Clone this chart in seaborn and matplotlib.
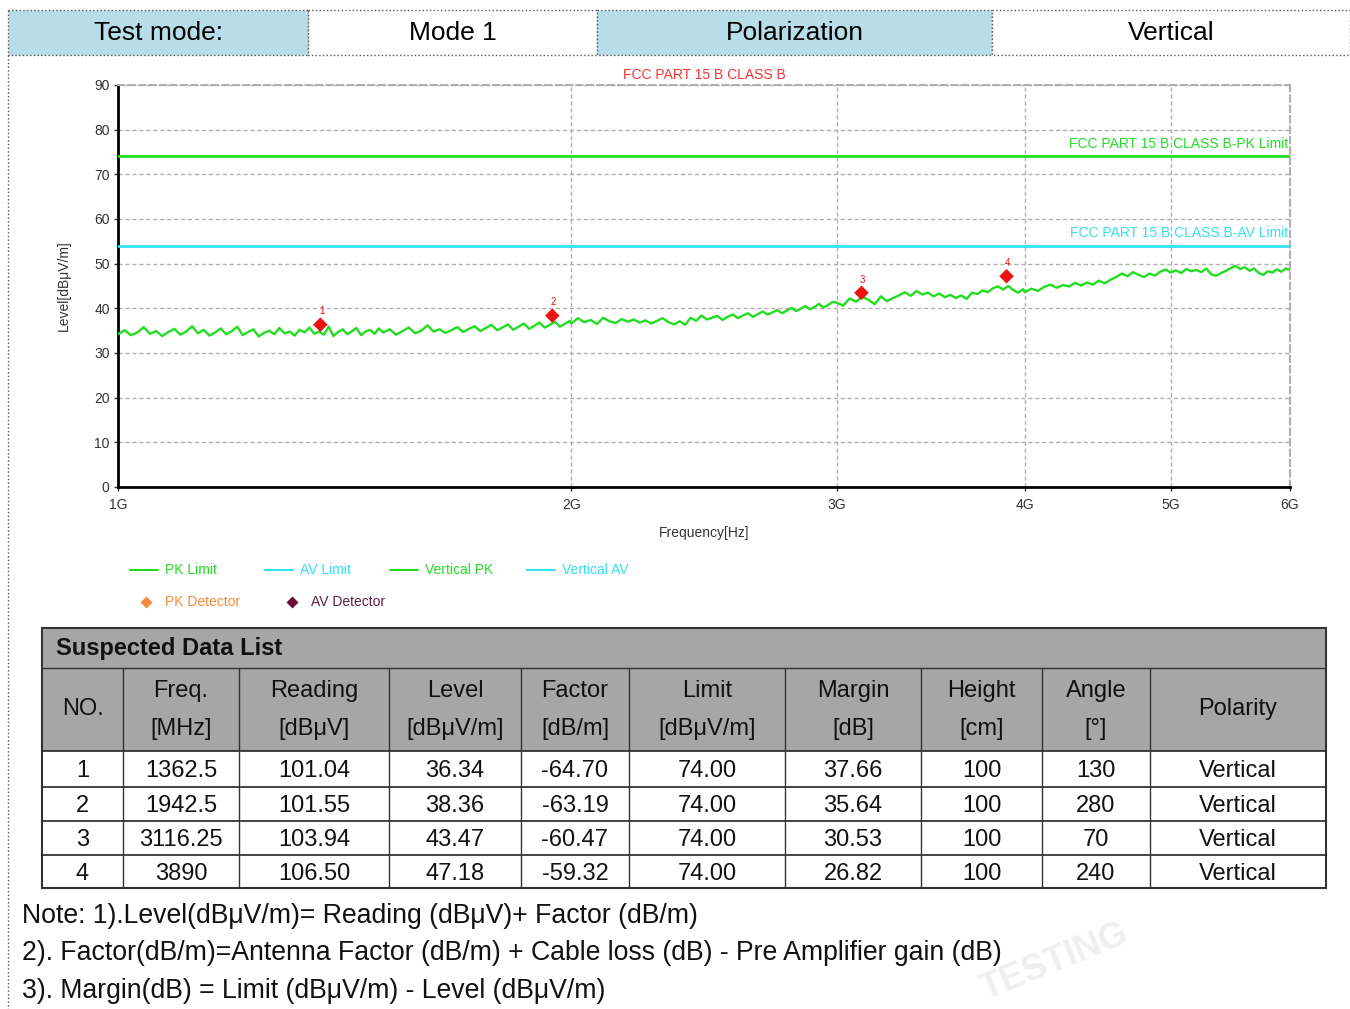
import matplotlib
matplotlib.use("Agg")
import matplotlib.pyplot as plt
import seaborn as sns
import numpy as np
from matplotlib.patches import Rectangle
from matplotlib.ticker import NullLocator

# ---------------- data ----------------
# sweep frequencies (MHz) and measured level (dBuV/m), read off the trace
trace_freq = [
    1000, 1010, 1020, 1030, 1040, 1050, 1060, 1070, 1080, 1090,
    1100, 1110, 1120, 1130, 1140, 1150, 1160, 1170, 1180, 1190,
    1200, 1210, 1220, 1230, 1240, 1250, 1260, 1270, 1280, 1290,
    1300, 1310, 1320, 1330, 1340, 1350, 1360, 1370, 1380, 1390,
    1400, 1410, 1420, 1430, 1440, 1450, 1460, 1470, 1480, 1490,
    1500, 1515, 1530, 1545, 1560, 1575, 1590, 1605, 1620, 1635,
    1650, 1665, 1680, 1695, 1710, 1725, 1740, 1755, 1770, 1785,
    1800, 1815, 1830, 1845, 1860, 1875, 1890, 1905, 1920, 1935,
    1950, 1965, 1980, 1995,
    2000, 2020, 2040, 2060, 2080, 2100, 2120, 2140, 2160, 2180,
    2200, 2220, 2240, 2260, 2280, 2300, 2320, 2340, 2360, 2380,
    2400, 2420, 2440, 2460, 2480, 2500, 2520, 2540, 2560, 2580,
    2600, 2620, 2640, 2660, 2680, 2700, 2720, 2740, 2760, 2780,
    2800, 2820, 2840, 2860, 2880, 2900, 2920, 2940, 2960, 2980,
    3000, 3030, 3060, 3090, 3120, 3150, 3180, 3210, 3240, 3270,
    3300, 3330, 3360, 3390, 3420, 3450, 3480, 3510, 3540, 3570,
    3600, 3630, 3660, 3690, 3720, 3750, 3780, 3810, 3840, 3870,
    3900, 3930, 3960, 3990,
    4000, 4040, 4080, 4120, 4160, 4200, 4240, 4280, 4320, 4360,
    4400, 4440, 4480, 4520, 4560, 4600, 4640, 4680, 4720, 4760,
    4800, 4840, 4880, 4920, 4960, 5000, 5040, 5080, 5120, 5160,
    5200, 5240, 5280, 5320, 5360, 5400, 5440, 5480, 5520, 5560,
    5600, 5640, 5680, 5720, 5760, 5800, 5840, 5880, 5920, 5960,
    6000,
]
trace_level = [
    34.2, 35.1, 34.0, 34.6, 35.8, 34.3, 34.9, 33.8, 34.7, 35.4,
    34.1, 34.8, 36.0, 34.4, 35.2, 33.9, 34.6, 35.5, 34.2, 34.9,
    35.9, 34.0, 34.7, 35.3, 33.7, 34.5, 35.0, 34.2, 35.6, 34.4,
    34.8, 33.9, 35.2, 34.6, 35.7, 34.3, 34.8, 34.1, 35.9, 33.8,
    34.7, 35.3, 34.2, 34.9, 35.6, 34.0, 34.8, 35.2, 34.3, 35.5,
    34.6, 35.3, 34.1, 34.9, 35.7, 34.4, 35.0, 36.2, 34.8, 35.3,
    34.5, 35.1, 35.8, 34.7, 35.4, 36.0, 34.9, 35.6, 36.3, 35.1,
    35.7, 36.4, 35.2, 35.9, 36.6, 35.4, 36.1, 36.8, 35.7, 36.3,
    37.0, 35.9, 36.5, 37.2,
    36.6, 37.8, 36.9, 37.4, 36.5, 37.9, 37.1, 36.7, 37.6, 37.0,
    37.5, 36.8, 37.3, 36.6, 37.2, 37.8, 36.9, 36.4, 37.1, 36.3,
    37.9, 37.2, 38.4, 37.5, 37.9, 38.3, 37.4, 38.1, 38.6, 37.8,
    38.4, 38.9, 38.1, 38.7, 39.3, 38.6, 39.1, 39.6, 38.9, 39.5,
    40.1, 39.4, 39.9, 40.5, 39.8, 40.3, 41.0, 40.2, 40.7, 41.4,
    41.3, 40.6, 42.2, 41.5, 42.6, 41.9, 40.9, 42.7, 41.6, 42.3,
    42.9, 43.6, 42.8, 43.9, 43.1, 43.5, 42.7, 43.3, 42.5, 43.0,
    42.3, 42.9, 42.1, 43.5, 43.2, 44.0, 43.6, 44.5, 44.9, 44.2,
    45.0, 44.1, 43.5, 44.3,
    43.6, 44.4, 43.9, 44.8, 45.3, 44.6, 45.2, 44.9, 45.7, 45.1,
    45.8, 45.3, 46.2, 45.6, 46.4, 47.0, 47.8, 47.2, 48.1, 47.5,
    47.0, 47.8, 47.3, 48.2, 48.7, 48.0, 48.5, 47.9, 48.8, 48.3,
    48.6, 48.1, 48.9, 47.6, 47.3, 47.9, 48.4, 49.0, 49.5, 48.8,
    49.2, 48.4, 48.9, 47.9, 47.5, 48.3, 48.0, 48.7, 48.2, 48.9,
    48.6,
]

pk_limit = 74.0
av_limit = 54.0

x_ticks = [1000, 2000, 3000, 4000, 5000, 6000]
x_tick_labels = ["1G", "2G", "3G", "4G", "5G", "6G"]
y_ticks = [0, 10, 20, 30, 40, 50, 60, 70, 80, 90]

# suspected data list
no_list = [1, 2, 3, 4]
freq_mhz = [1362.5, 1942.5, 3116.25, 3890]
reading = [101.04, 101.55, 103.94, 106.50]
level = [36.34, 38.36, 43.47, 47.18]
factor = [-64.70, -63.19, -60.47, -59.32]
limit = [74.00, 74.00, 74.00, 74.00]
margin = [37.66, 35.64, 30.53, 26.82]
height = [100, 100, 100, 100]
angle = [130, 280, 70, 240]
polarity = ["Vertical", "Vertical", "Vertical", "Vertical"]

col_heads = [("NO.", None), ("Freq.", "[MHz]"), ("Reading", "[dBμV]"),
             ("Level", "[dBμV/m]"), ("Factor", "[dB/m]"), ("Limit", "[dBμV/m]"),
             ("Margin", "[dB]"), ("Height", "[cm]"), ("Angle", "[°]"),
             ("Polarity", None)]

header_texts = ["Test mode:", "Mode 1", "Polarization", "Vertical"]

notes = ["Note: 1).Level(dBμV/m)= Reading (dBμV)+ Factor (dB/m)",
         "2). Factor(dB/m)=Antenna Factor (dB/m) + Cable loss (dB) - Pre Amplifier gain (dB)",
         "3). Margin(dB) = Limit (dBμV/m) - Level (dBμV/m)"]

# ---------------- style ----------------
sns.set_theme(style="white")
plt.rcParams["font.family"] = ["Liberation Sans", "DejaVu Sans"]

GREEN = "#22dd22"
CYAN = "#33e0ee"
RED = "#ee1111"
BLUE_CELL = "#b7dde8"
GRAY_CELL = "#a6a6a6"

W, H = 1350, 1009
fig = plt.figure(figsize=(13.5, 10.09), dpi=100)

# overlay in pixel coordinates for the report frame, header, table, notes
lay = fig.add_axes([0, 0, 1, 1])
lay.set_xlim(0, W)
lay.set_ylim(H, 0)
lay.axis("off")

# faint watermark
lay.text(1055, 962, "TESTING", fontsize=26, fontweight="bold", color="#efefef",
         rotation=22, ha="center", va="center", zorder=0)

# header row
hx = [8, 308, 597, 992, 1350]
for i, txt in enumerate(header_texts):
    fc = BLUE_CELL if i % 2 == 0 else "white"
    lay.add_patch(Rectangle((hx[i], 10), hx[i + 1] - hx[i], 45, facecolor=fc,
                            edgecolor="#555555", lw=1, ls=":"))
    lay.text((hx[i] + hx[i + 1]) / 2, 33, txt, fontsize=19, ha="center", va="center",
             color="black")
lay.plot([8, 8], [55, H], ls=":", color="#555555", lw=1)

# ---------------- chart ----------------
ax = fig.add_axes([118 / W, 1 - 487 / H, 1172 / W, 402 / H])
ax.set_zorder(2)
ax.set_xscale("log")

ax.axhline(pk_limit, color=GREEN, lw=2, zorder=3)
ax.axhline(av_limit, color=CYAN, lw=2, zorder=3)
sns.lineplot(x=trace_freq, y=trace_level, ax=ax, color=GREEN, lw=1.7, zorder=4)
sns.scatterplot(x=freq_mhz, y=level, ax=ax, marker="D", s=55, color=RED,
                edgecolor="none", zorder=5)
for n, f, lv in zip(no_list, freq_mhz, level):
    ax.annotate(str(n), (f, lv), xytext=(1, 6), textcoords="offset points",
                ha="center", va="bottom", color=RED, fontsize=7)

ax.set_xlim(1000, 6000)
ax.set_ylim(0, 90)
ax.set_xticks(x_ticks)
ax.set_xticklabels(x_tick_labels)
ax.xaxis.set_minor_locator(NullLocator())
ax.set_yticks(y_ticks)
ax.tick_params(axis="both", labelsize=10, colors="#333333", length=3, width=1,
               left=True, bottom=True, direction="out")
ax.tick_params(axis="x", pad=5)
ax.tick_params(axis="y", pad=3)
ax.grid(True, color="#b0b0b0", ls=(0, (3, 2)), lw=1)
for side in ["left", "bottom"]:
    ax.spines[side].set_color("black")
    ax.spines[side].set_linewidth(2)
for side in ["top", "right"]:
    ax.spines[side].set_color("#b0b0b0")
    ax.spines[side].set_linestyle((0, (3, 2)))
    ax.spines[side].set_linewidth(1.5)

ax.set_xlabel("Frequency[Hz]", fontsize=10, color="#333333", labelpad=10)
ax.set_ylabel("Level[dBμV/m]", fontsize=10, color="#333333", labelpad=17)
ax.set_title("FCC PART 15 B CLASS B", fontsize=10, color="#ff3333", pad=4)
ax.text(5980, pk_limit + 1.2, "FCC PART 15 B CLASS B-PK Limit", color=GREEN,
        fontsize=10, ha="right", va="bottom")
ax.text(5980, av_limit + 1.2, "FCC PART 15 B CLASS B-AV Limit", color=CYAN,
        fontsize=10, ha="right", va="bottom")

# legend below the chart
leg_lines = [(130, "PK Limit", GREEN), (265, "AV Limit", CYAN),
             (390, "Vertical PK", GREEN), (527, "Vertical AV", CYAN)]
for x0, lab, c in leg_lines:
    lay.plot([x0, x0 + 28], [570, 570], color=c, lw=1.5)
    lay.text(x0 + 35, 570, lab, color=c, fontsize=10, va="center")
leg_marks = [(146, "PK Detector", "#f58a3c", "#f58a3c"),
             (292, "AV Detector", "#6a0d3a", "#5a2040")]
for x0, lab, mc, tc in leg_marks:
    lay.plot([x0], [602], marker="D", ms=6, color=mc, mec="none")
    lay.text(x0 + 19, 602, lab, color=tc, fontsize=10, va="center")

# ---------------- data table ----------------
cx = [42, 123, 239, 389, 521, 629, 785, 921, 1042, 1150, 1326]
ry = [751, 787, 821, 855, 888]
tx0, tx1 = cx[0], cx[-1]

lay.add_patch(Rectangle((tx0, 628), tx1 - tx0, 751 - 628, facecolor=GRAY_CELL,
                        edgecolor="none"))
lay.add_patch(Rectangle((tx0, 751), tx1 - tx0, 888 - 751, facecolor="white",
                        edgecolor="none"))
lay.text(56, 648, "Suspected Data List", fontsize=17, fontweight="bold",
         ha="left", va="center", color="#111111")
for i, (top, sub) in enumerate(col_heads):
    xc = (cx[i] + cx[i + 1]) / 2
    if sub is None:
        lay.text(xc, 709, top, fontsize=17, ha="center", va="center", color="#111111")
    else:
        lay.text(xc, 691, top, fontsize=17, ha="center", va="center", color="#111111")
        lay.text(xc, 729, sub, fontsize=17, ha="center", va="center", color="#111111")

rows = []
for k in range(len(no_list)):
    rows.append([str(no_list[k]), str(freq_mhz[k]), f"{reading[k]:.2f}",
                 f"{level[k]:.2f}", f"{factor[k]:.2f}", f"{limit[k]:.2f}",
                 f"{margin[k]:.2f}", str(height[k]), str(angle[k]), polarity[k]])
for r, vals in enumerate(rows):
    yc = (ry[r] + ry[r + 1]) / 2 + 2
    for i, v in enumerate(vals):
        lay.text((cx[i] + cx[i + 1]) / 2, yc, v, fontsize=17, ha="center",
                 va="center", color="#111111")

# grid lines of the table
lay.plot([tx0, tx1], [668, 668], color="#333333", lw=1)
for y in ry[:-1]:
    lay.plot([tx0, tx1], [y, y], color="#222222", lw=1.2)
for x in cx[1:-1]:
    lay.plot([x, x], [668, 888], color="#333333", lw=1)
lay.add_patch(Rectangle((tx0, 628), tx1 - tx0, 888 - 628, facecolor="none",
                        edgecolor="#333333", lw=1.5))

# notes
for j, line in enumerate(notes):
    lay.text(22, 916 + 37.5 * j, line, fontsize=19.2, ha="left", va="center",
             color="#111111")

fig.savefig("out.png", dpi=100)
